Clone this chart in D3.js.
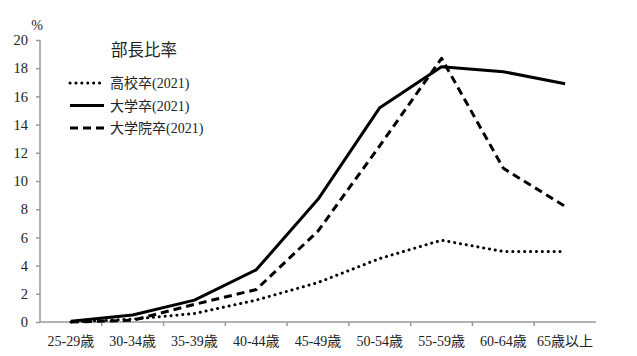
<!DOCTYPE html>
<html><head><meta charset="utf-8">
<script src="https://cdn.jsdelivr.net/npm/d3@7"></script>
<style>body{margin:0;background:#fff}svg text{font-family:"Liberation Serif","Noto Sans CJK JP",serif;fill:#222}</style>
</head><body><svg id="c" width="637" height="356"></svg>
<script>
const categories = ["25-29歳","30-34歳","35-39歳","40-44歳","45-49歳","50-54歳","55-59歳","60-64歳","65歳以上"];
const highSchool = [0, 0.2, 0.6, 1.55, 2.8, 4.5, 5.8, 5.0, 5.0];
const university = [0.05, 0.5, 1.55, 3.7, 8.7, 15.2, 18.1, 17.75, 16.9];
const graduate = [0, 0.12, 1.25, 2.3, 6.45, 12.5, 18.7, 10.9, 8.2];
const seriesNames = ["高校卒(2021)","大学卒(2021)","大学院卒(2021)"];
const yTicks = [0,2,4,6,8,10,12,14,16,18,20];
const legendTitle = "部長比率";

const svg = d3.select("#c");
const x = d3.scaleBand().domain(categories).range([40, 596]);
const y = d3.scaleLinear().domain([0, 20]).range([322, 40]);

const yAxis = svg.append("g").attr("transform","translate(40,0)")
  .call(d3.axisLeft(y).tickValues(yTicks).tickSize(4).tickPadding(8));
const xAxis = svg.append("g").attr("transform","translate(0,322)")
  .call(d3.axisBottom(x).tickSize(4).tickPadding(8));
xAxis.selectAll(".tick line").attr("x1", x.bandwidth()/2).attr("x2", x.bandwidth()/2);
xAxis.selectAll(".tick line").filter((d,i)=>i===categories.length-1).remove();
[yAxis,xAxis].forEach(g=>{
  g.select(".domain").attr("stroke","#999").attr("stroke-width",1.5);
  g.selectAll(".tick line").attr("stroke","#999").attr("stroke-width",1.5);
  g.selectAll("text").style("font-size","14.5px").attr("fill","#222");
});
yAxis.select(".domain").attr("d","M0,40V322");
xAxis.select(".domain").attr("d","M40,0H596");
xAxis.selectAll("text").style("font-size","14px").attr("dy","0.85em");

svg.append("text").attr("x",37).attr("y",30).attr("text-anchor","middle").style("font-size","14px").text("%");

const line = d3.line().x((d,i)=>x(categories[i])+x.bandwidth()/2).y(d=>y(d));
const styles = [
  {data: highSchool, dash:"0.1 5.8", cap:"round", w:3},
  {data: university, dash:null, cap:"butt", w:3},
  {data: graduate, dash:"8 5", cap:"butt", w:3}
];
styles.forEach(s=>{
  svg.append("path").datum(s.data).attr("d",line).attr("fill","none").attr("stroke","#000")
    .attr("stroke-width",s.w).attr("stroke-dasharray",s.dash).attr("stroke-linecap",s.cap).attr("stroke-linejoin","round");
});

svg.append("text").attr("x",111).attr("y",56).style("font-size","16.5px").text(legendTitle);
seriesNames.forEach((n,i)=>{
  const ly = 83 + i*22.5;
  const s = styles[i];
  svg.append("line").attr("x1",70).attr("x2",104).attr("y1",ly).attr("y2",ly).attr("stroke","#000")
    .attr("stroke-width",s.w).attr("stroke-dasharray",s.dash).attr("stroke-linecap",s.cap);
  svg.append("text").attr("x",110).attr("y",ly+5).style("font-size","14px").text(n);
});
</script></body></html>
